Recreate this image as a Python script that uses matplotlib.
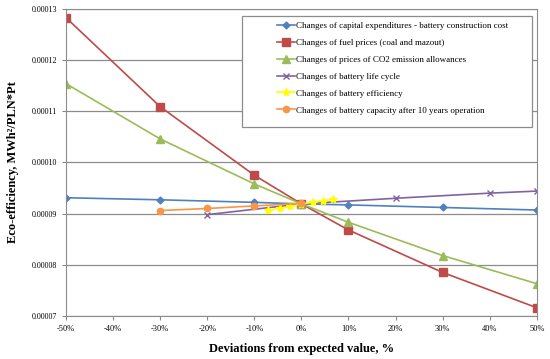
import matplotlib.pyplot as plt
from matplotlib.patches import Rectangle
from matplotlib.ticker import FuncFormatter, MultipleLocator

plt.rcParams['font.family'] = ['Liberation Serif', 'DejaVu Serif']

# deviations (%) and eco-efficiency values
x_capex = [-50, -30, -10, 0, 10, 30, 50]
y_capex = [0.0000931, 0.0000927, 0.0000922, 0.0000919, 0.0000917, 0.0000912, 0.0000907]

x_fuel = [-50, -30, -10, 0, 10, 30, 50]
y_fuel = [0.0001283, 0.0001109, 0.0000975, 0.0000919, 0.0000868, 0.0000785, 0.0000716]

x_co2 = [-50, -30, -10, 0, 10, 30, 50]
y_co2 = [0.0001154, 0.0001046, 0.0000958, 0.0000919, 0.0000883, 0.0000818, 0.0000763]

x_life = [-20, 0, 20, 40, 50]
y_life = [0.0000898, 0.0000919, 0.0000930, 0.0000940, 0.0000944]

x_eff = [-7, -4.5, -2.4, 0, 2.4, 4.5, 6.7]
y_eff = [0.0000907, 0.0000910, 0.0000914, 0.0000919, 0.0000922, 0.0000925, 0.0000928]

x_cap = [-30, -20, -10, 0]
y_cap = [0.0000906, 0.0000910, 0.0000915, 0.0000920]

labels = [
    'Changes of capital expenditures - battery construction cost',
    'Changes of fuel prices (coal and mazout)',
    'Changes of prices of CO2 emission allowances',
    'Changes of battery life cycle',
    'Changes of battery efficiency',
    'Changes of battery capacity after 10 years operation',
]

fig = plt.figure(figsize=(5.5, 3.59), dpi=100)
ax = fig.add_axes([0.12, 0.12, 0.856, 0.855])

ax.plot(x_capex, y_capex, color='#4F81BD', marker='D', ms=3.5, lw=1.2, label=labels[0])
ax.plot(x_fuel, y_fuel, color='#BE4B48', marker='s', ms=5.5, lw=1.2, label=labels[1])
ax.plot(x_co2, y_co2, color='#9BBB59', marker='^', ms=5.5, lw=1.2, label=labels[2])
ax.plot(x_life, y_life, color='#8064A2', marker='x', ms=5, mew=1, lw=1.2, label=labels[3])
ax.plot(x_eff, y_eff, color='#FFFF00', marker='*', ms=6, lw=1.2, label=labels[4])
ax.plot(x_cap, y_cap, color='#F79646', marker='o', ms=4.5, lw=1.2, label=labels[5])

ax.set_xlim(-50, 50)
ax.set_ylim(0.00007, 0.00013)
ax.xaxis.set_major_locator(MultipleLocator(10))
ax.yaxis.set_major_locator(MultipleLocator(0.00001))
ax.xaxis.set_major_formatter(FuncFormatter(lambda v, p: f'{v:.0f}%'))
ax.yaxis.set_major_formatter(FuncFormatter(lambda v, p: f'{v:.5f}'))
ax.tick_params(axis='x', labelsize=6, color='#888888', length=3, width=0.8)
ax.tick_params(axis='y', labelsize=5.8, color='#888888', length=3, width=0.8)
ax.grid(axis='y', color='#8c8c8c', lw=0.9)
ax.set_axisbelow(True)
for s in ax.spines.values():
    s.set_color('#8c8c8c')

ax.set_xlabel('Deviations from expected value, %', fontsize=9, fontweight='bold', labelpad=7)
ax.set_ylabel('Eco-efficiency, MWh²/PLN*Pt', fontsize=9, fontweight='bold', labelpad=9)

# legend box drawn separately so the entries can sit indented inside it
ax.add_patch(Rectangle((0.374, 0.615), 0.616, 0.362, transform=ax.transAxes,
                       facecolor='white', edgecolor='#8c8c8c', lw=0.9, zorder=5))
leg = ax.legend(loc='upper left', bbox_to_anchor=(0.43, 0.985), frameon=False,
                fontsize=6.5, handlelength=2.0, handletextpad=0.2, labelspacing=0.95)
leg.set_zorder(6)

fig.savefig('out.png', dpi=100)
